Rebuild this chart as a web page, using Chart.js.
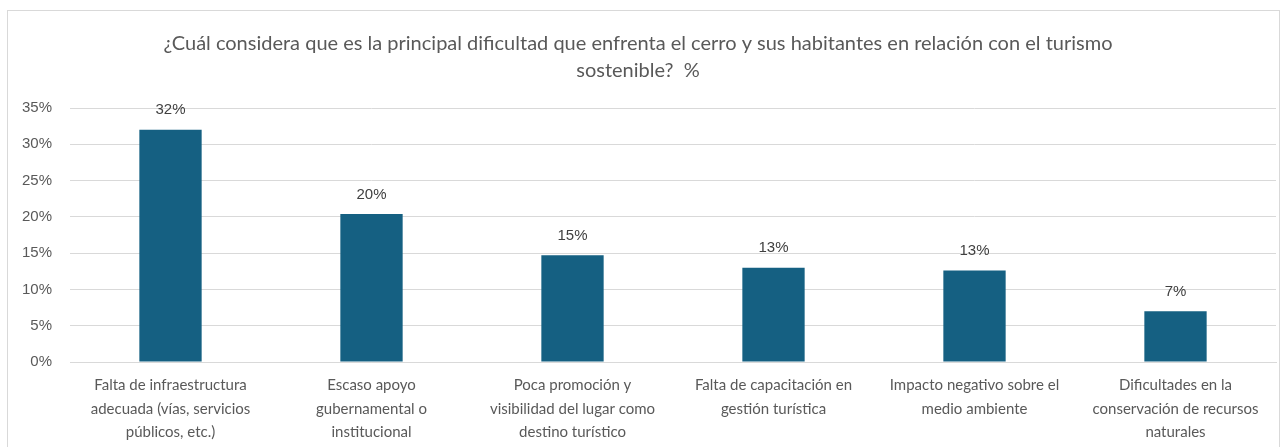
<!DOCTYPE html>
<html>
<head>
<meta charset="utf-8">
<script src="https://cdn.jsdelivr.net/npm/chart.js@4"></script>
<style>
  html, body { margin: 0; padding: 0; background: #ffffff; }
  #wrap { position: relative; width: 1285px; height: 447px; }
  canvas { display: block; }
</style>
</head>
<body>
<div id="wrap"><canvas id="c" width="1285" height="447"></canvas></div>
<script>
const titleLines = [
  "¿Cuál considera que es la principal dificultad que enfrenta el cerro y sus habitantes en relación con el turismo",
  "sostenible?  %"
];
const categories = [
  ["Falta de infraestructura", "adecuada (vías, servicios", "públicos, etc.)"],
  ["Escaso apoyo", "gubernamental o", "institucional"],
  ["Poca promoción y", "visibilidad del lugar como", "destino turístico"],
  ["Falta de capacitación en", "gestión turística"],
  ["Impacto negativo sobre el", "medio ambiente"],
  ["Dificultades en la", "conservación de recursos", "naturales"]
];
const values = [32.0, 20.4, 14.7, 13.0, 12.6, 7.0];
const yTicks = [0, 5, 10, 15, 20, 25, 30, 35];

const frame = {
  id: 'frame',
  beforeDraw(chart) {
    const ctx = chart.ctx;
    ctx.save();
    ctx.fillStyle = '#ffffff';
    ctx.fillRect(0, 0, chart.width, chart.height);
    ctx.strokeStyle = '#d9d9d9';
    ctx.lineWidth = 1;
    ctx.strokeRect(7.5, 10.5, 1272, 460);
    ctx.restore();
  }
};

const valueLabels = {
  id: 'valueLabels',
  afterDatasetsDraw(chart) {
    const ctx = chart.ctx;
    const meta = chart.getDatasetMeta(0);
    ctx.save();
    ctx.font = '15px "Liberation Sans", Arial, sans-serif';
    ctx.fillStyle = '#404040';
    ctx.textAlign = 'center';
    ctx.textBaseline = 'bottom';
    meta.data.forEach((bar, i) => {
      const v = chart.data.datasets[0].data[i];
      ctx.fillText(Math.round(v) + '%', bar.x, bar.y - 12);
    });
    ctx.restore();
  }
};

new Chart(document.getElementById('c'), {
  type: 'bar',
  data: {
    labels: categories,
    datasets: [{
      data: values,
      backgroundColor: '#156082',
      borderWidth: 0,
      barPercentage: 0.31,
      categoryPercentage: 1.0
    }]
  },
  options: {
    responsive: false,
    animation: false,
    devicePixelRatio: 1,
    layout: { padding: { left: 0, right: 9, top: 0, bottom: 0 } },
    plugins: {
      legend: { display: false },
      tooltip: { enabled: false },
      title: {
        display: true,
        text: titleLines,
        color: '#595959',
        font: { family: 'Lato, "Open Sans", sans-serif', size: 20, weight: 'normal', lineHeight: 1.35 },
        padding: { top: 30, bottom: 24 }
      }
    },
    scales: {
      x: {
        grid: { display: false, drawTicks: false },
        border: { display: true, color: '#d9d9d9', width: 1 },
        ticks: {
          color: '#595959',
          font: { family: 'Lato, "Open Sans", sans-serif', size: 15, lineHeight: 1.55 },
          padding: 12,
          maxRotation: 0,
          autoSkip: false
        },
        afterFit(scale) { scale.height = 85; }
      },
      y: {
        min: 0,
        max: 35,
        afterBuildTicks(scale) { scale.ticks = yTicks.map(v => ({ value: v })); },
        grid: { color: '#d9d9d9', lineWidth: 1, drawTicks: false },
        border: { display: false },
        ticks: {
          color: '#595959',
          font: { family: '"Liberation Sans", Arial, sans-serif', size: 15 },
          padding: 18,
          callback: v => v + '%'
        },
        afterFit(scale) { scale.width = 70; }
      }
    }
  },
  plugins: [frame, valueLabels]
});
</script>
</body>
</html>
